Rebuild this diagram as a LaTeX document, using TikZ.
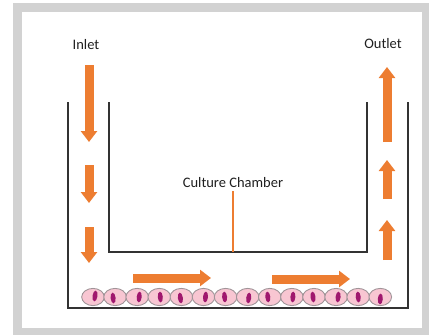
\documentclass[tikz,border=0pt]{standalone}
\usepackage{fontspec}
\setmainfont{Carlito}
\usetikzlibrary{arrows.meta}
\definecolor{flowor}{HTML}{ED7D31}
\definecolor{wallc}{HTML}{333333}
\definecolor{cellfill}{HTML}{F8C6D2}
\definecolor{cellline}{HTML}{A09498}
\definecolor{nucleus}{HTML}{A0186E}
\definecolor{framec}{HTML}{D2D2D2}
\begin{document}
\begin{tikzpicture}[x=1pt,y=-1pt,
  frame/.style={draw=framec, line width=8.5pt},
  wall/.style={draw=wallc, line width=1.4pt},
  flow/.style={draw=flowor, line width=9pt, -{Triangle[width=16pt,length=11pt]}},
  label/.style={font=\fontsize{14.5}{16}\selectfont, text=black!88, inner sep=0pt},
  leader/.style={draw=flowor, line width=1.2pt},
  cell/.style={draw=cellline, fill=cellfill, line width=0.9pt},
  nuc/.style={fill=nucleus, draw=none}]
\useasboundingbox (0,0) rectangle (429,335);
% outer frame
\draw[frame] (17.5,7.5) rectangle (426,332.5);

% channel walls: outer U and inner chamber
\draw[wall] (68,102) -- (68,308) -- (408,308) -- (408,102);
\draw[wall] (109,102) -- (109,252) -- (367,252) -- (367,102);

% labels
\node[label] (inlet) at (86,45) {Inlet};
\node[label] (outlet) at (383,44) {Outlet};
\node[label] (chamber) at (233,183) {Culture Chamber};
\coordinate (floor) at (233,252);
\draw[leader] (chamber.south) ++(0,3) coordinate (lead) (lead) -- (floor);

% inflow arrows (down the left channel)
\draw[flow] (89,65) -- (89,142);
\draw[flow] (89,165) -- (89,203);
\draw[flow] (89,227) -- (89,263);

% flow along the bottom channel
\draw[flow] (133,278) -- (211,278);
\draw[flow] (272,279) -- (350,279);

% outflow arrows (up the right channel)
\draw[flow] (387,260) -- (387,220);
\draw[flow] (387,199) -- (387,160);
\draw[flow] (387,142) -- (387,67);

% cell monolayer on the channel floor
\foreach \i/\dx/\dy/\r in {0/2/-1/-8,1/-2/1/6,2/2/0/-6,3/1/0/4,4/-1/1/8,5/2/0/-5,6/-1/0/5,7/1/1/-7,8/-2/0/6,9/1/0/-4,10/-1/0/7,11/2/0/-6,12/0/0/5,13/0/2/-4}{
  \path[cell] (93+22.1*\i,297) ellipse [x radius=11.3, y radius=8.6];
  \path[nuc, rotate around={\r:(93+22.1*\i+\dx,297+\dy)}] (93+22.1*\i+\dx,297+\dy) ellipse [x radius=2.5, y radius=5.4];
}
\end{tikzpicture}
\end{document}
